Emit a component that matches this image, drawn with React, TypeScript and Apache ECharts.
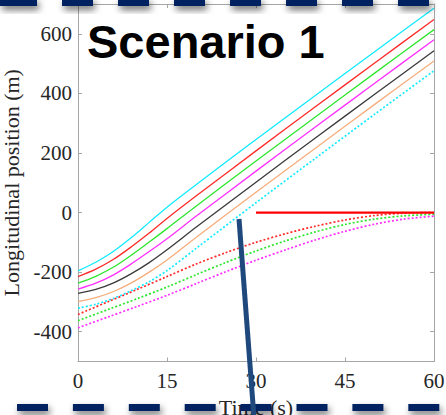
import { useEffect, useRef } from "react";
import * as echarts from "echarts";

// Platoon trajectories (solid / first dotted) sampled in seconds
const timeSteps = [0, 3, 6, 9, 12, 15, 20, 30, 40, 50, 60];
const leadCyan = [-196, -167, -130, -84, -33, 18, 95, 245, 393, 540, 686];
const leadRed = [-215, -190, -157, -115, -69, -20, 57, 207, 355, 502, 648];
const leadGreen = [-237, -214, -183, -143, -99, -54, 23, 173, 321, 468, 614];
const leadMagenta = [-257, -237, -209, -172, -131, -88, -11, 139, 287, 434, 580];
const leadBlack = [-271, -258, -236, -205, -168, -125, -48, 102, 250, 397, 543];
const leadPeach = [-299, -286, -265, -236, -200, -159, -82, 68, 216, 363, 509];
const leadCyanDotted = [-321, -308, -288, -262, -232, -195, -119, 33, 182, 330, 476];

// Merging vehicles approaching the stop position
const mergeSteps = [0, 5, 10, 15, 20, 25, 30, 35, 40, 45, 50, 55, 60];
const mergeRed = [-342, -300, -258, -215, -172, -134, -100, -71, -46, -25, -10, -2, 0];
const mergeGreen = [-363, -326, -289, -250, -208, -167, -129, -95, -65, -40, -22, -11, -6];
const mergeMagenta = [-387, -351, -315, -278, -238, -198, -160, -125, -92, -63, -39, -22, -12];

// Stop line
const stopTime = [30, 60];
const stopPos = [0, 0];

const yTickValues = [-400, -200, 0, 200, 400, 600];

const pairs = (xs: number[], ys: number[]) => xs.map((x, i) => [x, ys[i]]);

export default function App() {
  const ref = useRef<HTMLDivElement>(null);

  useEffect(() => {
    document.body.style.margin = "0";
    if (!ref.current) return;
    const chart = echarts.init(ref.current, undefined, { renderer: "svg" });

    const serif = "'Liberation Serif', 'Times New Roman', serif";
    const axisGray = "#a6a6a6";

    const line = (
      xs: number[],
      ys: number[],
      color: string,
      dotted: boolean,
      width = 1.3
    ) => ({
      type: "line",
      data: pairs(xs, ys),
      showSymbol: false,
      symbol: "none",
      smooth: 0.3,
      lineStyle: { color, width, type: dotted ? [2, 2] : "solid" },
      silent: true,
    });

    const series: any[] = [
      line(timeSteps, leadCyan, "#12eaff", false),
      line(timeSteps, leadRed, "#ff2a2a", false),
      line(timeSteps, leadGreen, "#2ee62e", false),
      line(timeSteps, leadMagenta, "#ff30ff", false),
      line(timeSteps, leadBlack, "#3a3a3a", false),
      line(timeSteps, leadPeach, "#f6ad7b", false),
      line(timeSteps, leadCyanDotted, "#12eaff", true, 1.7),
      line(mergeSteps, mergeRed, "#ff2a2a", true, 1.7),
      line(mergeSteps, mergeGreen, "#2ee62e", true, 1.7),
      line(mergeSteps, mergeMagenta, "#ff30ff", true, 1.7),
      {
        type: "line",
        data: pairs(stopTime, stopPos),
        symbol: "none",
        lineStyle: { color: "#ff0000", width: 2.2 },
        silent: true,
      },
    ];

    const dashStyle = {
      fill: "#002060",
      shadowBlur: 7,
      shadowOffsetY: 4,
      shadowOffsetX: 2,
      shadowColor: "rgba(0,0,0,0.55)",
    };
    const dashes: any[] = [];
    for (let k = 0; k < 8; k++) {
      const x = k === 0 ? 0 : 6 + 56 * k;
      const w = k === 0 ? 37 : 31;
      dashes.push({
        type: "rect",
        z: 100,
        shape: { x, y: -2, width: w, height: 8 },
        style: dashStyle,
      });
    }
    for (let k = 0; k < 8; k++) {
      dashes.push({
        type: "rect",
        z: 100,
        shape: { x: 17 + 55.9 * k, y: 404, width: 31, height: 7 },
        style: dashStyle,
      });
    }

    chart.setOption({
      animation: false,
      backgroundColor: "#ffffff",
      grid: {
        left: 78,
        right: 12,
        top: 4,
        bottom: 53.5,
        containLabel: false,
        outerBoundsMode: "none",
      },
      xAxis: [
        {
          type: "value",
          min: 0,
          max: 60,
          interval: 15,
          name: "Time (s)",
          nameLocation: "middle",
          nameGap: 27,
          nameTextStyle: { fontFamily: serif, fontSize: 22, color: "#262626" },
          axisLine: { show: true, onZero: false, lineStyle: { color: axisGray, width: 1 } },
          axisTick: { show: true, inside: true, length: 4, lineStyle: { color: axisGray } },
          axisLabel: { fontFamily: serif, fontSize: 21, color: "#262626", margin: 9 },
          splitLine: { show: false },
        },
        {
          type: "value",
          position: "top",
          min: 0,
          max: 60,
          interval: 15,
          axisLine: { show: true, onZero: false, lineStyle: { color: axisGray, width: 1 } },
          axisTick: { show: true, inside: true, length: 4, lineStyle: { color: axisGray } },
          axisLabel: { show: false },
          splitLine: { show: false },
        },
      ],
      yAxis: [
        {
          type: "value",
          min: -500,
          max: 700,
          name: "Longitudinal position (m)",
          nameLocation: "middle",
          nameGap: 54,
          nameTextStyle: { fontFamily: serif, fontSize: 22, color: "#262626" },
          axisLine: { show: true, onZero: false, lineStyle: { color: axisGray, width: 1 } },
          axisTick: {
            show: true,
            inside: true,
            length: 4,
            customValues: yTickValues,
            lineStyle: { color: axisGray },
          },
          axisLabel: {
            fontFamily: serif,
            fontSize: 21,
            color: "#262626",
            margin: 6,
            customValues: yTickValues,
          },
          splitLine: { show: false },
        },
        {
          type: "value",
          position: "right",
          min: -500,
          max: 700,
          axisLine: { show: true, onZero: false, lineStyle: { color: axisGray, width: 1 } },
          axisTick: {
            show: true,
            inside: true,
            length: 4,
            customValues: yTickValues,
            lineStyle: { color: axisGray },
          },
          axisLabel: { show: false },
          splitLine: { show: false },
        },
      ],
      series,
      graphic: [
        {
          type: "text",
          z: 100,
          x: 87,
          y: 41,
          style: {
            text: "Scenario 1",
            font: "bold 47px 'Liberation Sans', Arial, sans-serif",
            fill: "#000000",
            verticalAlign: "middle",
            align: "left",
          },
        },
        ...dashes,
        {
          type: "line",
          z: 110,
          shape: { x1: 239, y1: 219, x2: 254, y2: 418 },
          style: { stroke: "#1f497d", lineWidth: 5 },
        },
      ],
    });

    return () => chart.dispose();
  }, []);

  return <div ref={ref} style={{ width: 446, height: 415 }} />;
}
